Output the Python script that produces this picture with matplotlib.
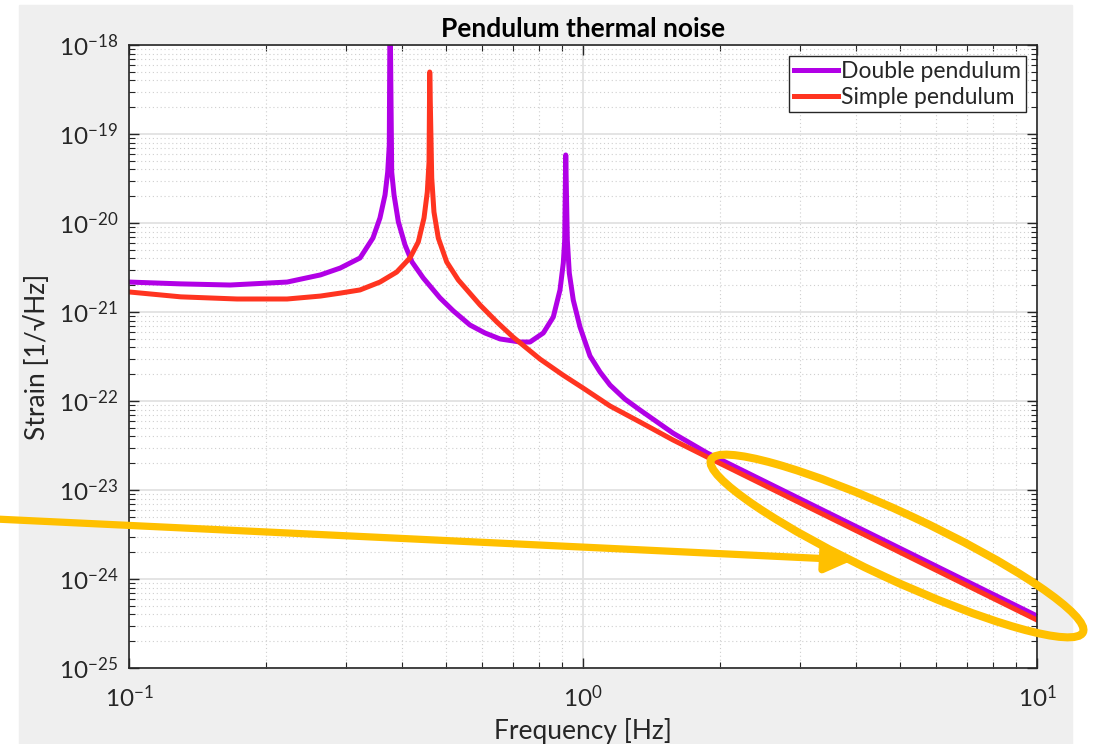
import matplotlib
matplotlib.use('Agg')
import matplotlib.pyplot as plt
from matplotlib.patches import Rectangle, Ellipse, FancyArrowPatch
from matplotlib.ticker import LogLocator
from matplotlib.transforms import Affine2D
import numpy as np

plt.rcParams['font.family'] = ['Lato', 'DejaVu Sans']
plt.rcParams['mathtext.fontset'] = 'custom'
plt.rcParams['mathtext.rm'] = 'Lato'
plt.rcParams['mathtext.it'] = 'Lato:italic'
plt.rcParams['mathtext.bf'] = 'Lato:bold'

# values
freq_double = [0.1, 0.130, 0.167, 0.223, 0.264, 0.292, 0.3228, 0.3446, 0.3571, 0.3664,
               0.3714, 0.3744, 0.3758, 0.3790, 0.3835, 0.3920, 0.4055, 0.4201, 0.4448,
               0.4842, 0.5179, 0.5637, 0.6083, 0.6565, 0.727, 0.7643, 0.8176, 0.8602,
               0.8899, 0.9050, 0.9114, 0.9161, 0.9235, 0.9328, 0.9519, 0.9849, 1.036,
               1.090, 1.147, 1.237, 1.335, 1.578, 1.876, 10.0]
strain_double = [2.17e-21, 2.07e-21, 2.01e-21, 2.17e-21, 2.61e-21, 3.12e-21, 4.05e-21,
                 6.78e-21, 1.14e-20, 2.07e-20, 3.74e-20, 7.51e-20, 3e-18, 3.74e-20,
                 2.07e-20, 1.03e-20, 5.66e-21, 3.65e-21, 2.41e-21, 1.44e-21, 1.03e-21,
                 7.14e-22, 5.81e-22, 4.98e-22, 4.60e-22, 4.60e-22, 5.81e-22, 8.79e-22,
                 1.77e-21, 3.56e-21, 6.44e-21, 5.81e-20, 6.44e-21, 2.74e-21, 1.36e-21,
                 6.78e-22, 3.21e-22, 2.12e-22, 1.51e-22, 1.05e-22, 7.92e-23, 4.36e-23,
                 2.61e-23, 3.84e-25]

freq_simple = [0.1, 0.130, 0.173, 0.223, 0.264, 0.292, 0.3228, 0.3571, 0.3887, 0.4158,
               0.4337, 0.4465, 0.4540, 0.4580, 0.4596, 0.4643, 0.4696, 0.4800, 0.5009,
               0.5313, 0.5932, 0.646, 0.701, 0.804, 0.903, 1.0, 1.147, 1.335, 1.578,
               1.876, 10.0]
strain_simple = [1.68e-21, 1.48e-21, 1.40e-21, 1.40e-21, 1.51e-21, 1.63e-21, 1.77e-21,
                 2.17e-21, 2.81e-21, 4.05e-21, 6.12e-21, 1.14e-20, 2.23e-20, 4.84e-20,
                 4.97e-19, 3.21e-20, 1.33e-20, 6.78e-21, 3.65e-21, 2.29e-21, 1.20e-21,
                 7.73e-22, 5.24e-22, 2.96e-22, 1.96e-22, 1.40e-22, 8.79e-23, 5.81e-23,
                 3.65e-23, 2.35e-23, 3.46e-25]

purple = '#b100e6'
red = '#ff3420'
yellow = '#ffc000'
dark = '#262626'

W, H = 1097, 744
fig = plt.figure(figsize=(W / 100, H / 100), dpi=100, facecolor='white')
fig.patches.append(Rectangle((19 / W, 0), (1072 - 19) / W, (H - 5) / H,
                             transform=fig.transFigure, color='#efefef', zorder=-1))

ax = fig.add_axes([129 / W, 1 - 668 / H, (1037 - 129) / W, (668 - 45) / H])
ax.set_facecolor('white')
ax.set_xscale('log')
ax.set_yscale('log')

ax.plot(freq_double, strain_double, color=purple, lw=3.6, label='Double pendulum')
ax.plot(freq_simple, strain_simple, color=red, lw=3.6, label='Simple pendulum')

ax.set_xlim(0.1, 10)
ax.set_ylim(1e-25, 1e-18)
ax.yaxis.set_major_locator(LogLocator(base=10, numticks=20))
ax.yaxis.set_minor_locator(LogLocator(base=10, subs=np.arange(2, 10), numticks=100))
ax.xaxis.set_minor_locator(LogLocator(base=10, subs=np.arange(2, 10), numticks=100))

ax.grid(which='major', color='#e2e2e2', lw=1.3, ls='-')
ax.grid(which='minor', color='#cfcfcf', lw=0.8, ls=(0, (1, 2.5)))
ax.set_axisbelow(True)

for s in ax.spines.values():
    s.set_color(dark)
    s.set_linewidth(1.2)
ax.tick_params(which='both', direction='in', top=True, right=True, colors=dark)
ax.tick_params(which='major', length=7, width=1.0)
ax.tick_params(which='minor', length=4, width=0.8)
ax.tick_params(axis='y', which='major', labelsize=17.5, pad=8)
ax.tick_params(axis='x', which='major', labelsize=17.5, pad=12)

ax.set_title('Pendulum thermal noise', fontsize=19, fontweight='bold', pad=6)
ax.set_xlabel('Frequency [Hz]', fontsize=19, color=dark, labelpad=5)
ax.set_ylabel('Strain [1/\u221aHz]', fontsize=19, color=dark, labelpad=6)

leg = ax.legend(loc='upper right', fontsize=16.5, fancybox=False, framealpha=1,
                edgecolor=dark, borderaxespad=0.5, handlelength=1.9,
                handletextpad=0.15, borderpad=0.2, labelspacing=0.2)
leg.get_frame().set_linewidth(1.0)
for t in leg.get_texts():
    t.set_color(dark)

# yellow highlight, in pixels measured from the top-left corner
px = Affine2D().scale(1, -1).translate(0, H)
fig.patches.append(Ellipse((897, 546), 410, 66, angle=24.9, fill=False,
                           edgecolor=yellow, lw=5.8, transform=px, zorder=5))
fig.patches.append(FancyArrowPatch((-5, 519), (853, 560),
                                   arrowstyle='-|>,head_length=0.9,head_width=0.45',
                                   mutation_scale=18, color=yellow, lw=5.2,
                                   shrinkA=0, shrinkB=0, transform=px, zorder=5))

fig.savefig('out.png', dpi=100, facecolor=fig.get_facecolor())
